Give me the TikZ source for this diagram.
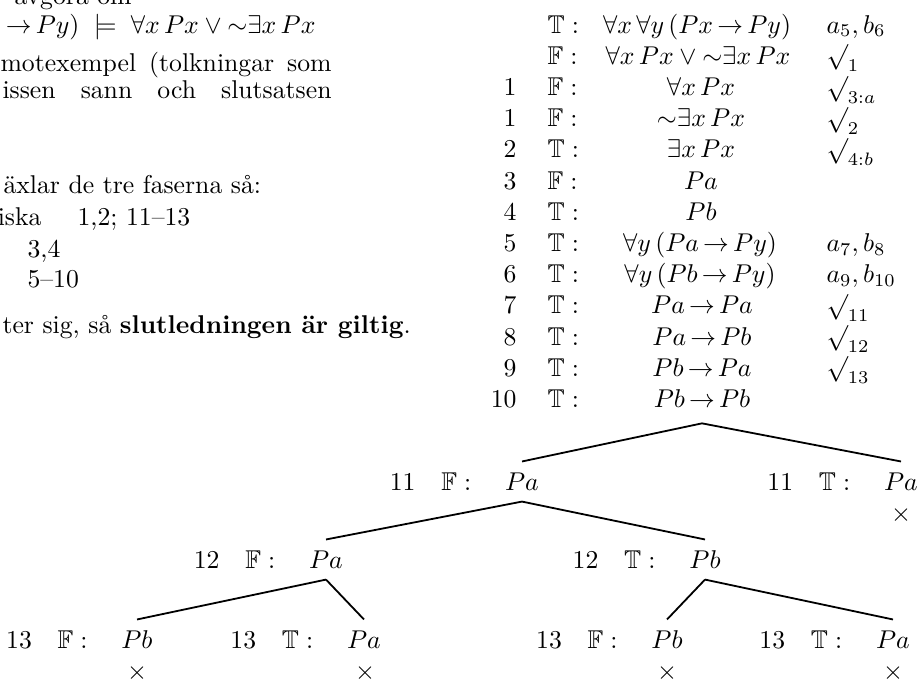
\documentclass[tikz,border=0pt]{standalone}
\usepackage{amssymb}
\usepackage{fontspec}
\newcommand{\imp}{\mskip3mu{\to}\mskip3mu}
\tikzset{
  txt/.style={anchor=base west, inner sep=0pt},
  txte/.style={anchor=base east, inner sep=0pt},
  rnum/.style={anchor=base east, inner sep=0pt},
  sgn/.style={anchor=base west, inner sep=0pt},
  fml/.style={anchor=base, inner sep=0pt},
  jst/.style={anchor=base west, inner sep=0pt},
  tf/.style={anchor=base, inner sep=0pt, text height=10.9pt, text depth=4.3pt},
  pre/.style={anchor=base east, inner sep=0pt},
  cross/.style={anchor=center, inner sep=0pt},
  branch/.style={line width=0.7pt},
}
\begin{document}
\begin{tikzpicture}[x=0.389pt,y=-0.389pt]
\useasboundingbox (0,0) rectangle (920,680);
\clip (0,0) rectangle (920,680);
% ---------------- left text ----------------
\node[txt] (t0) at (14,4) {avgöra om};
\node[txte] (t1) at (316,33) {${\to}\mskip3mu Py)\;\models\;\forall x\,Px\vee{\sim}\exists x\,Px$};
\node[txt] (t2) at (0,71) {\hbox to 128.8pt{motexempel\hfill(tolkningar\hfill som}};
\node[txt] (t3) at (2,98) {\hbox to 128.0pt{issen\hfill sann\hfill och\hfill slutsatsen}};
\node[txt] (t4) at (3,193) {äxlar de tre faserna så:};
\node[txte] (t5a) at (42,225) {iska};
\node[txt] (t5b) at (77,225) {1,2; 11--13};
\node[txt] (t6) at (27,257) {3,4};
\node[txt] (t7) at (27,287) {5--10};
\node[txt] (t8) at (2,333) {ter sig, så \textbf{slutledningen är giltig}.};
% ---------------- tableau ----------------
\node[sgn] (s0) at (547,33) {$\mathbb{T}:$};
\node[fml] (f0) at (697,33) {$\forall x\,\forall y\,(Px\imp Py)$};
\node[jst] (j0) at (826,33) {$a_5, b_6$};

\node[sgn] (s1) at (547,64.2) {$\mathbb{F}:$};
\node[fml] (f1) at (698,64.2) {$\forall x\,Px\vee{\sim}\exists x\,Px$};
\node[jst] (j1) at (826,64.2) {$\surd_1$};

\node[rnum] (n2) at (517,95.4) {1};
\node[sgn] (s2) at (547,95.4) {$\mathbb{F}:$};
\node[fml] (f2) at (701,95.4) {$\forall x\,Px$};
\node[jst] (j2) at (826,95.4) {$\surd_{3:a}$};

\node[rnum] (n3) at (517,126.6) {1};
\node[sgn] (s3) at (547,126.6) {$\mathbb{F}:$};
\node[fml] (f3) at (701,126.6) {${\sim}\exists x\,Px$};
\node[jst] (j3) at (826,126.6) {$\surd_2$};

\node[rnum] (n4) at (517,157.8) {2};
\node[sgn] (s4) at (547,157.8) {$\mathbb{T}:$};
\node[fml] (f4) at (701,157.8) {$\exists x\,Px$};
\node[jst] (j4) at (826,157.8) {$\surd_{4:b}$};

\node[rnum] (n5) at (517,189) {3};
\node[sgn] (s5) at (547,189) {$\mathbb{F}:$};
\node[fml] (f5) at (701,189) {$Pa$};

\node[rnum] (n6) at (517,220.2) {4};
\node[sgn] (s6) at (547,220.2) {$\mathbb{T}:$};
\node[fml] (f6) at (701,220.2) {$Pb$};

\node[rnum] (n7) at (517,251.4) {5};
\node[sgn] (s7) at (547,251.4) {$\mathbb{T}:$};
\node[fml] (f7) at (700,251.4) {$\forall y\,(Pa\imp Py)$};
\node[jst] (j7) at (826,251.4) {$a_7, b_8$};

\node[rnum] (n8) at (517,282.6) {6};
\node[sgn] (s8) at (547,282.6) {$\mathbb{T}:$};
\node[fml] (f8) at (700,282.6) {$\forall y\,(Pb\imp Py)$};
\node[jst] (j8) at (826,282.6) {$a_9, b_{10}$};

\node[rnum] (n9) at (517,313.8) {7};
\node[sgn] (s9) at (547,313.8) {$\mathbb{T}:$};
\node[fml] (f9) at (702,313.8) {$Pa\imp Pa$};
\node[jst] (j9) at (826,313.8) {$\surd_{11}$};

\node[rnum] (n10) at (517,345) {8};
\node[sgn] (s10) at (547,345) {$\mathbb{T}:$};
\node[fml] (f10) at (702,345) {$Pa\imp Pb$};
\node[jst] (j10) at (826,345) {$\surd_{12}$};

\node[rnum] (n11) at (517,376.2) {9};
\node[sgn] (s11) at (547,376.2) {$\mathbb{T}:$};
\node[fml] (f11) at (702,376.2) {$Pb\imp Pa$};
\node[jst] (j11) at (826,376.2) {$\surd_{13}$};

\node[rnum] (n12) at (517,407.4) {10};
\node[sgn] (s12) at (547,407.4) {$\mathbb{T}:$};
\node[fml, text depth=6pt] (f12) at (702,407.4) {$Pb\imp Pb$};
% ---------------- tree ----------------
\node[tf] (a11) at (522,490) {$Pa$};
\node[pre] (pa11) at (a11.base west) {$11\quad\mathbb{F}:\;\quad$};
\node[tf] (b11) at (901,490) {$Pa$};
\node[pre] (pb11) at (b11.base west) {$11\quad\mathbb{T}:\;\quad$};
\node[cross] (xb11) at (901,515) {$\times$};

\node[tf] (a12) at (326,568) {$Pa$};
\node[pre] (pa12) at (a12.base west) {$12\quad\mathbb{F}:\;\quad$};
\node[tf] (b12) at (705,568) {$Pb$};
\node[pre] (pb12) at (b12.base west) {$12\quad\mathbb{T}:\;\quad$};

\node[tf] (a13) at (137,648) {$Pb$};
\node[pre] (pa13) at (a13.base west) {$13\quad\mathbb{F}:\;\quad$};
\node[cross] (xa13) at (137,673) {$\times$};
\node[tf] (b13) at (364,648) {$Pa$};
\node[pre] (pb13) at (b13.base west) {$13\quad\mathbb{T}:\;\quad$};
\node[cross] (xb13) at (365,673) {$\times$};
\node[tf] (c13) at (667,648) {$Pb$};
\node[pre] (pc13) at (c13.base west) {$13\quad\mathbb{F}:\;\quad$};
\node[cross] (xc13) at (667,673) {$\times$};
\node[tf] (d13) at (893,648) {$Pa$};
\node[pre] (pd13) at (d13.base west) {$13\quad\mathbb{T}:\;\quad$};
\node[cross] (xd13) at (893,673) {$\times$};

\draw[branch] (f12.south) -- (a11.north);
\draw[branch] (f12.south) -- (b11.north);
\draw[branch] (a11.south) -- (a12.north);
\draw[branch] (a11.south) -- (b12.north);
\draw[branch] (a12.south) -- (a13.north);
\draw[branch] (a12.south) -- (b13.north);
\draw[branch] (b12.south) -- (c13.north);
\draw[branch] (b12.south) -- (d13.north);
\end{tikzpicture}
\end{document}
